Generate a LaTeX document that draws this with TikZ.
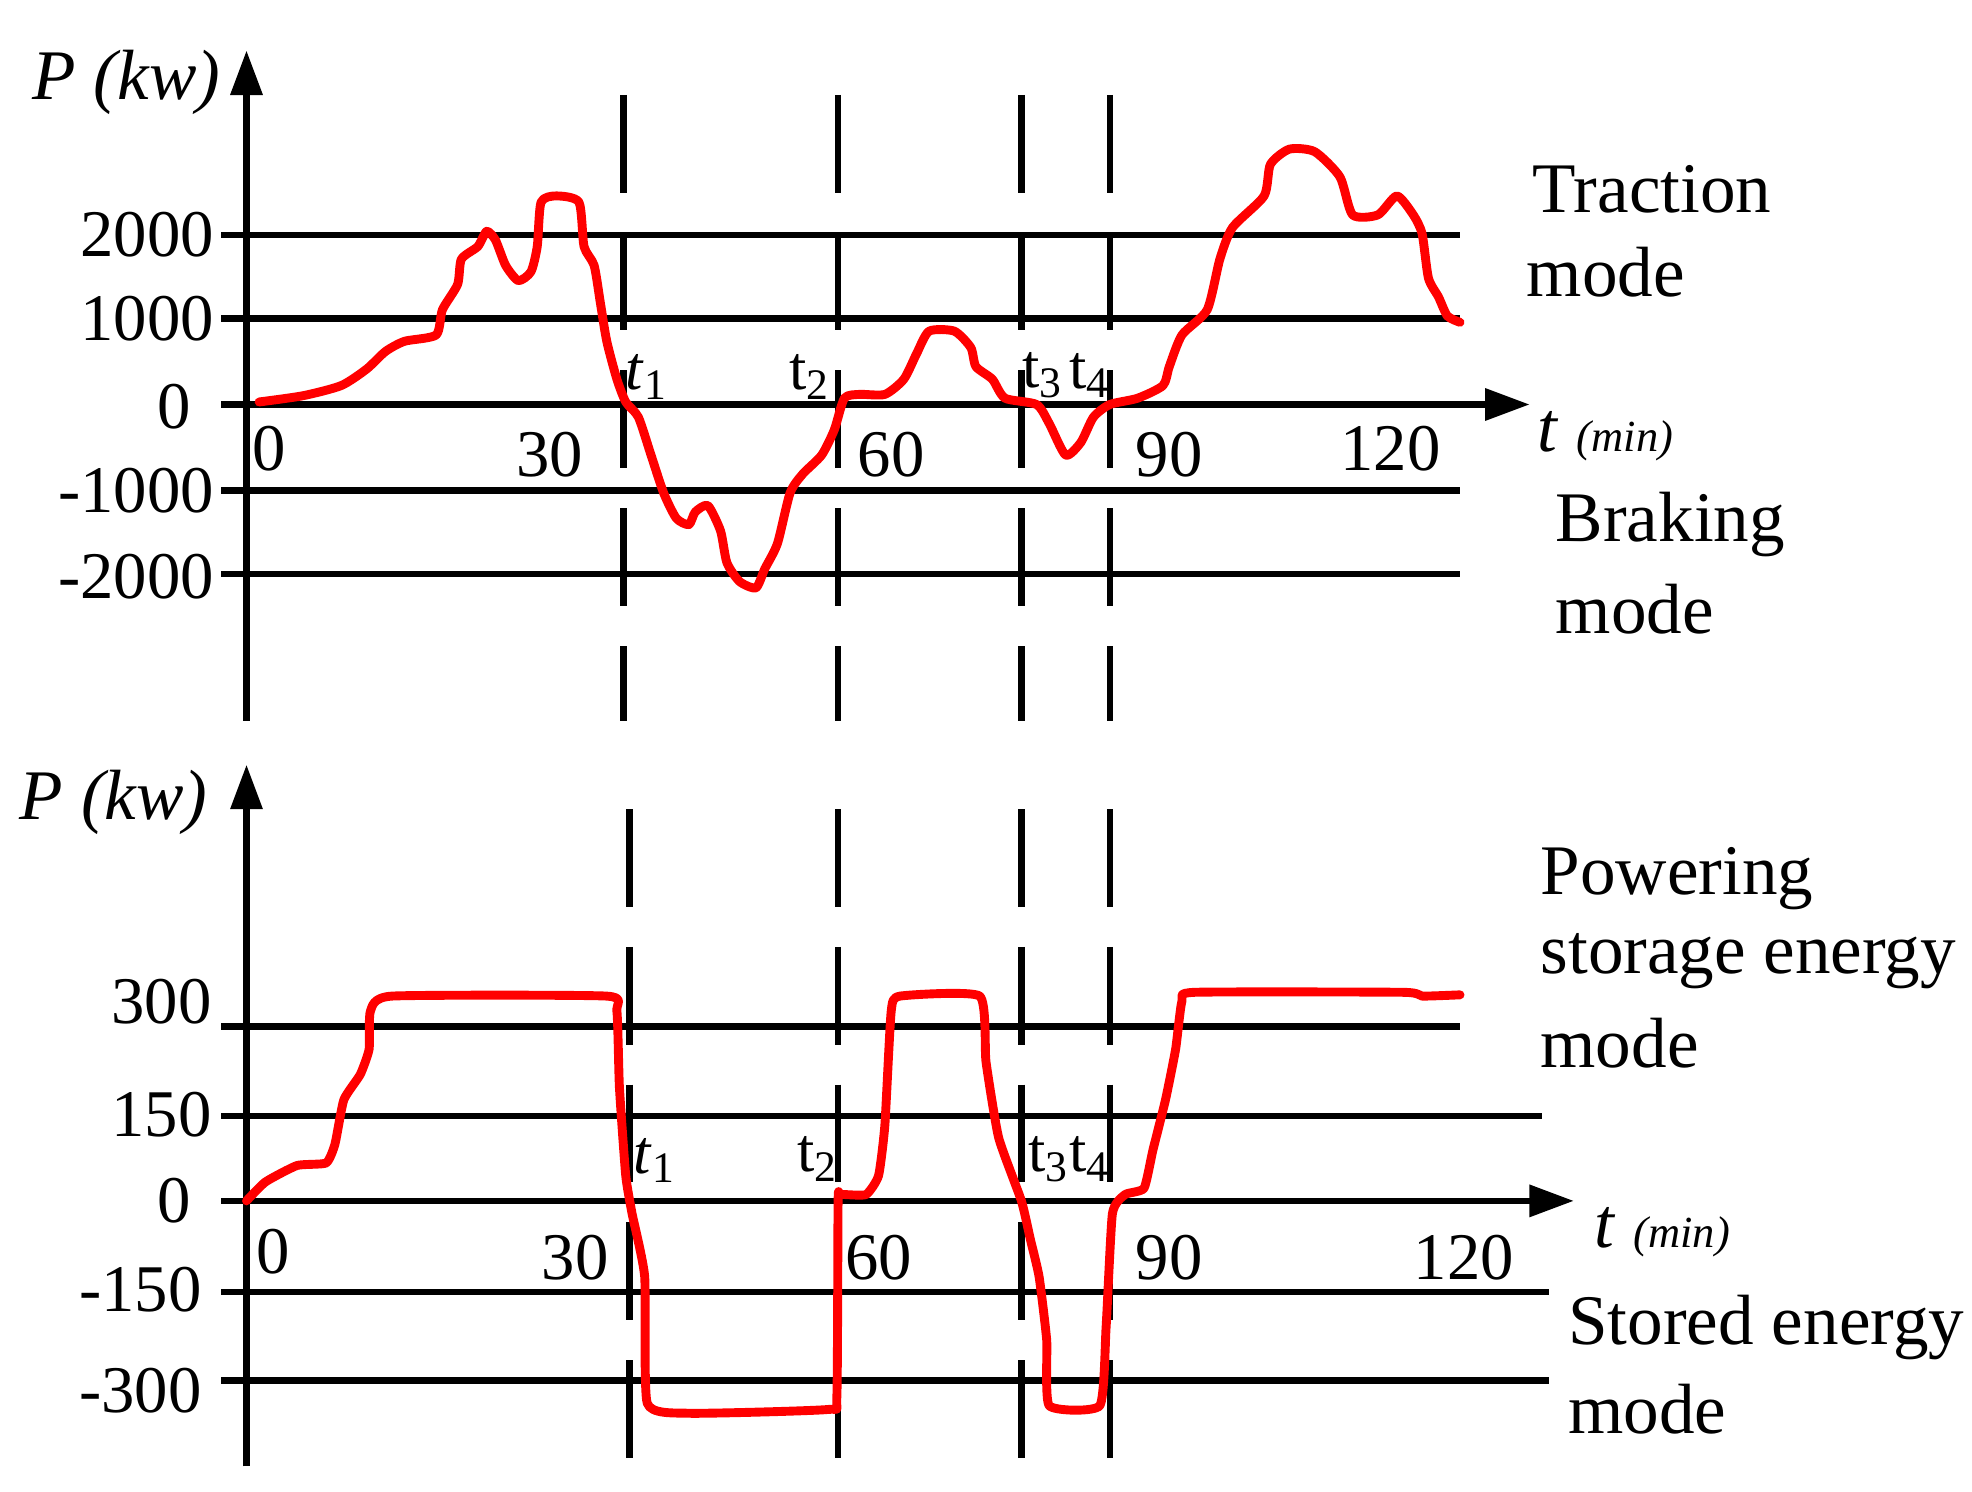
\documentclass[tikz,border=0pt]{standalone}
\usepackage{fontspec}
\setmainfont{Liberation Serif}
\usetikzlibrary{arrows.meta}
\begin{document}
\begin{tikzpicture}[x=0.01cm,y=-0.01cm,
  grid/.style={line width=1.4pt},
  ax/.style={line width=1.4pt,-{Triangle[length=10pt,width=7pt]}},
  dsh/.style={line width=1.5pt,dash pattern=on 22pt off 9pt},
  curve/.style={red,line width=2pt,line join=round,line cap=round},
  num/.style={font=\fontsize{15}{17}\selectfont,inner sep=0pt},
  lbl/.style={font=\fontsize{16}{18}\selectfont,inner sep=0pt,anchor=west},
  tl/.style={font=\fontsize{14}{16}\selectfont,inner sep=0pt}]
\useasboundingbox (0,0) rectangle (1560,1180);
% ---------- top chart
\foreach \y in {186,252,388,454} \draw[grid] (175,\y) -- (1155,\y);
\coordinate (tx0) at (175,320); \coordinate (tx1) at (1210,320);
\draw[ax] (tx0) -- (tx1);
\coordinate (ty0) at (195,570); \coordinate (ty1) at (195,40);
\draw[ax] (ty0) -- (ty1);
\foreach \x in {493,663,808,878} \draw[dsh] (\x,75) -- (\x,570);
\node[num,anchor=east] at (170,186) {2000};
\node[num,anchor=east] at (170,252) {1000};
\node[num,anchor=east] at (152,322) {0};
\node[num,anchor=east] at (170,388) {-1000};
\node[num,anchor=east] at (170,456) {-2000};
\node[num] (a0) at (213,355) {0};
\node[num] (a30) at (435,360) {30};
\node[num] (a60) at (705,360) {60};
\node[num] (a90) at (925,360) {90};
\node[num] (a120) at (1100,355) {120};
\node[tl] at (512,298) {\textit{t}\textsubscript{1}};
\node[tl] at (641,298) {t\textsubscript{2}};
\node[tl] at (825,297) {t\textsubscript{3}};
\node[tl] at (862,297) {t\textsubscript{4}};
\node[inner sep=0pt] at (1270,345) {\fontsize{16}{18}\selectfont\textit{t} \fontsize{10}{12}\selectfont\textit{(min)}};
\node[inner sep=0pt,font=\fontsize{16}{18}\selectfont\itshape] at (100,65) {P (kw)};
\node[lbl] at (1212,150) {Traction};
\node[lbl] at (1207,215) {mode};
\node[lbl] at (1230,415) {Braking};
\node[lbl] at (1230,482) {mode};
\draw[curve] plot[smooth,tension=0.4] coordinates {(205,318)(240,313)(270,305)(290,292)(305,278)(320,270)(345,265)(350,245)(362,225)(365,205)(378,195)(385,183)(392,190)(400,210)(410,222)(420,215)(425,195)(428,160)(440,155)(458,160)(462,195)(470,210)(475,240)(480,270)(488,300)(495,318)(505,330)(515,360)(525,390)(535,410)(545,415)(550,405)(560,400)(570,420)(575,445)(585,460)(598,465)(605,450)(615,430)(625,390)(635,375)(650,360)(660,340)(668,315)(680,312)(700,312)(715,300)(725,280)(735,262)(755,262)(768,275)(772,290)(785,300)(795,315)(820,320)(830,335)(843,360)(855,350)(865,330)(878,320)(900,315)(920,305)(925,290)(935,265)(955,245)(965,205)(975,180)(1000,155)(1005,130)(1020,118)(1040,120)(1060,140)(1070,170)(1090,170)(1105,155)(1118,170)(1125,185)(1130,220)(1138,235)(1145,250)(1155,255)};
% ---------- bottom chart
\draw[grid] (175,812) -- (1155,812);
\draw[grid] (175,883) -- (1220,883);
\draw[grid] (175,1022) -- (1225,1022);
\draw[grid] (175,1092) -- (1225,1092);
\coordinate (bx0) at (175,950); \coordinate (bx1) at (1245,950);
\draw[ax] (bx0) -- (bx1);
\coordinate (by0) at (195,1160); \coordinate (by1) at (195,605);
\draw[ax] (by0) -- (by1);
\foreach \x in {498,663,808,878} \draw[dsh] (\x,640) -- (\x,1160);
\node[num,anchor=east] at (168,792) {300};
\node[num,anchor=east] at (168,882) {150};
\node[num,anchor=east] at (152,950) {0};
\node[num,anchor=east] at (160,1020) {-150};
\node[num,anchor=east] at (160,1100) {-300};
\node[num] (b0) at (216,990) {0};
\node[num] (b30) at (455,995) {30};
\node[num] (b60) at (695,995) {60};
\node[num] (b90) at (925,995) {90};
\node[num] (b120) at (1158,995) {120};
\node[tl] at (518,918) {\textit{t}\textsubscript{1}};
\node[tl] at (647,917) {t\textsubscript{2}};
\node[tl] at (830,917) {t\textsubscript{3}};
\node[tl] at (862,917) {t\textsubscript{4}};
\node[inner sep=0pt] at (1315,975) {\fontsize{16}{18}\selectfont\textit{t} \fontsize{10}{12}\selectfont\textit{(min)}};
\node[inner sep=0pt,font=\fontsize{16}{18}\selectfont\itshape] at (90,635) {P (kw)};
\node[lbl] at (1218,695) {Powering};
\node[lbl] at (1218,760) {storage energy};
\node[lbl] at (1218,825) {mode};
\node[lbl] at (1240,1050) {Stored energy};
\node[lbl] at (1240,1115) {mode};
\draw[curve] plot[smooth,tension=0.3] coordinates {(195,950)(210,935)(235,922)(258,920)(265,905)(272,870)(285,850)(292,830)(293,800)(310,788)(480,788)(488,800)(490,860)(495,930)(500,960)(510,1010)(512,1110)(545,1118)(655,1115)(662,1105)(663,950)(665,945)(685,945)(695,930)(700,890)(705,800)(712,788)(775,788)(780,840)(790,900)(808,950)(815,980)(822,1010)(828,1060)(830,1112)(870,1112)(875,1050)(880,960)(890,945)(905,940)(912,910)(922,870)(930,830)(935,792)(945,785)(1110,785)(1125,788)(1155,787)};
\end{tikzpicture}
\end{document}
